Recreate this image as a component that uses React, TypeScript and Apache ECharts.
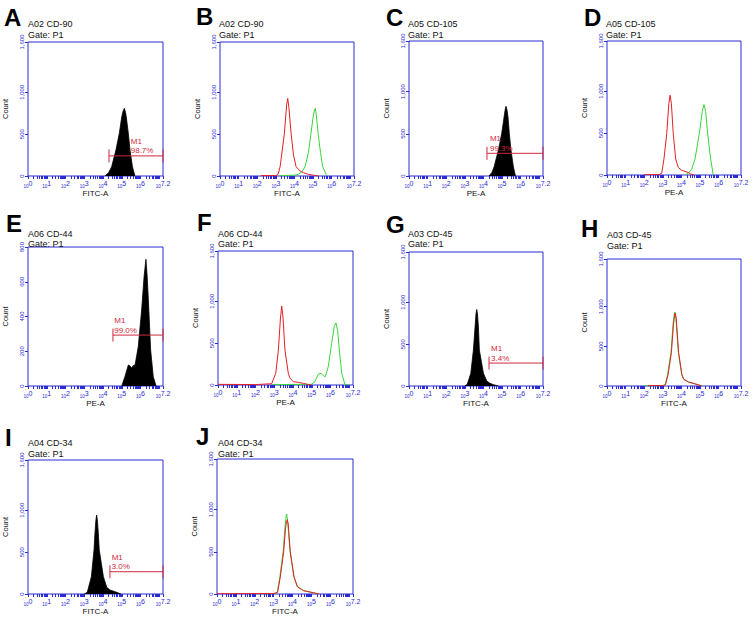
import React, { useEffect, useRef } from 'react';
import * as echarts from 'echarts';

// ---------- data (x = log10 fluorescence, y = event count) ----------
const A_BLACK_X = [4.1, 4.3, 4.46, 4.69, 4.87, 5.0, 5.08, 5.14, 5.2, 5.24, 5.35, 5.44, 5.57, 5.7];
const A_BLACK_Y = [0, 40, 111, 310, 510, 708, 780, 808, 760, 708, 510, 310, 111, 0];

const B_RED_X = [2.2, 3.0, 3.12, 3.23, 3.46, 3.58, 3.64, 3.7, 3.82, 3.95, 4.09, 4.3, 4.48, 4.75, 5.02, 5.3];
const B_RED_Y = [5, 5, 20, 111, 510, 850, 926, 820, 510, 250, 111, 60, 40, 20, 10, 0];
const B_GREEN_X = [3.2, 4.0, 4.21, 4.4, 4.57, 4.75, 4.89, 5.0, 5.08, 5.12, 5.18, 5.27, 5.4, 5.52, 5.74];
const B_GREEN_Y = [5, 10, 20, 50, 111, 280, 510, 700, 790, 808, 720, 510, 280, 111, 0];

const C_BLACK_X = [4.3, 4.45, 4.57, 4.8, 4.98, 5.11, 5.17, 5.21, 5.26, 5.32, 5.39, 5.48, 5.61, 5.72];
const C_BLACK_Y = [0, 40, 107, 304, 502, 700, 790, 826, 790, 700, 502, 304, 107, 0];

const D_RED_X = [2.0, 2.8, 2.94, 3.06, 3.21, 3.32, 3.39, 3.46, 3.56, 3.69, 3.83, 4.01, 4.37, 4.5, 4.7];
const D_RED_Y = [5, 5, 20, 191, 493, 850, 952, 850, 493, 191, 90, 56, 30, 10, 0];
const D_GREEN_X = [4.2, 4.37, 4.55, 4.73, 4.96, 5.12, 5.21, 5.3, 5.41, 5.57, 5.71];
const D_GREEN_Y = [5, 20, 70, 191, 493, 760, 840, 760, 493, 191, 0];

const E_BLACK_X = [5.0, 5.17, 5.35, 5.45, 5.53, 5.62, 5.71, 5.88, 6.06, 6.19, 6.29, 6.35, 6.42, 6.54, 6.68, 6.83];
const E_BLACK_Y = [0, 54, 121, 115, 104, 118, 121, 226, 437, 629, 729, 640, 495, 207, 54, 0];

const F_RED_X = [0, 2.0, 2.86, 3.08, 3.22, 3.33, 3.4, 3.47, 3.57, 3.75, 3.84, 4.02, 4.3, 4.55, 4.82, 5.0];
const F_RED_Y = [8, 5, 15, 139, 417, 800, 941, 800, 417, 139, 80, 40, 30, 20, 5, 0];
const F_GREEN_X = [2.9, 4.9, 5.0, 5.17, 5.35, 5.5, 5.62, 5.72, 5.88, 6.06, 6.2, 6.29, 6.38, 6.47, 6.6, 6.77, 7.0];
const F_GREEN_Y = [5, 8, 10, 40, 131, 140, 110, 99, 218, 497, 700, 742, 650, 417, 139, 5, 0];

const G_BLACK_X = [3.0, 3.13, 3.32, 3.46, 3.55, 3.6, 3.64, 3.68, 3.73, 3.78, 4.0, 4.18, 4.35, 4.55, 4.8];
const G_BLACK_Y = [0, 20, 151, 429, 707, 860, 914, 860, 707, 429, 151, 60, 32, 15, 0];

const H_GREEN_X = [2.0, 3.0, 3.12, 3.26, 3.44, 3.55, 3.62, 3.65, 3.7, 3.83, 4.01, 4.1, 4.37, 4.91, 5.09];
const H_GREEN_Y = [3, 5, 15, 150, 427, 780, 920, 932, 860, 427, 150, 90, 51, 15, 0];
const H_RED_X = [2.2, 3.0, 3.14, 3.28, 3.46, 3.57, 3.64, 3.67, 3.72, 3.85, 4.02, 4.12, 4.38, 4.9, 5.1];
const H_RED_Y = [5, 5, 15, 140, 420, 770, 905, 920, 850, 420, 150, 85, 50, 15, 0];

const I_BLACK_X = [3.0, 3.16, 3.38, 3.52, 3.57, 3.62, 3.66, 3.7, 3.75, 3.8, 4.02, 4.2, 4.37, 4.73, 4.95];
const I_BLACK_Y = [0, 20, 207, 525, 724, 880, 943, 880, 724, 525, 207, 80, 48, 20, 0];

const J_GREEN_X = [2.0, 3.0, 3.19, 3.33, 3.51, 3.6, 3.66, 3.69, 3.74, 3.86, 4.07, 4.25, 4.57, 5.1, 5.36];
const J_GREEN_Y = [3, 5, 20, 206, 521, 800, 920, 948, 860, 521, 206, 90, 40, 15, 0];
const J_RED_X = [0, 0.1, 2.0, 3.0, 3.21, 3.35, 3.53, 3.62, 3.68, 3.72, 3.77, 3.88, 4.08, 4.26, 4.58, 5.1, 5.4];
const J_RED_Y = [10, 3, 5, 5, 20, 200, 500, 760, 860, 880, 830, 500, 200, 85, 40, 15, 0];

// M1 gates: [start, end, level, label anchor], percentage
const A_GATE = [4.32, 7.2, 240, 5.48];
const A_GATE_PCT = '98.7%';
const C_GATE = [4.19, 7.2, 269, 4.35];
const C_GATE_PCT = '99.3%';
const E_GATE = [4.53, 7.2, 293, 4.6];
const E_GATE_PCT = '99.0%';
const G_GATE = [4.3, 7.2, 274, 4.41];
const G_GATE_PCT = '3.4%';
const I_GATE = [4.37, 7.2, 266, 4.46];
const I_GATE_PCT = '3.0%';

const X_LABEL_VALUES = [0, 1, 2, 3, 4, 5, 6, 7.2];
const Y_TICKS_1600 = [0, 500, 1000, 1600];
const Y_TICKS_800 = [0, 200, 400, 600, 800];

// ---------- styling ----------
const BLUE = '#2b2bd2';
const RED = '#e41e26';
const GREEN = '#3ad43a';
const MARK = '#d0283c';
const FONT = '"Liberation Sans", Arial, Helvetica, sans-serif';

const LOG_TICKS: number[] = [];
for (let d = 0; d <= 7; d++) {
  for (let k = 1; k <= 9; k++) {
    const v = d + Math.log10(k);
    if (v <= 7.2 + 1e-9) LOG_TICKS.push(Number(v.toFixed(4)));
  }
}
LOG_TICKS.push(7.2);

const zip = (xs: number[], ys: number[]) => xs.map((x, i) => [x, ys[i]]);

type Curve = { data: number[][]; color: string; fill?: boolean };
type Panel = {
  letter: string;
  title: string;
  channel: string;
  ymax: number;
  yticks: number[];
  grid: { left: number; top: number; width: number; height: number };
  letterXY: [number, number];
  titleXY: [number, number];
  gateY: number;
  curves: Curve[];
  gate?: { v: number[]; pct: string };
};

const PANELS: Panel[] = [
  {
    letter: 'A', title: 'A02 CD-90', channel: 'FITC-A', ymax: 1600, yticks: Y_TICKS_1600,
    grid: { left: 28, top: 42, width: 135, height: 134 },
    letterXY: [4, 17.5], titleXY: [28, 23.5], gateY: 35,
    curves: [{ data: zip(A_BLACK_X, A_BLACK_Y), color: '#000', fill: true }],
    gate: { v: A_GATE, pct: A_GATE_PCT },
  },
  {
    letter: 'B', title: 'A02 CD-90', channel: 'FITC-A', ymax: 1600, yticks: Y_TICKS_1600,
    grid: { left: 220, top: 42, width: 134, height: 134 },
    letterXY: [196, 16.5], titleXY: [219, 24], gateY: 35,
    curves: [
      { data: zip(B_GREEN_X, B_GREEN_Y), color: GREEN },
      { data: zip(B_RED_X, B_RED_Y), color: RED },
    ],
  },
  {
    letter: 'C', title: 'A05 CD-105', channel: 'PE-A', ymax: 1600, yticks: Y_TICKS_1600,
    grid: { left: 409, top: 41, width: 134, height: 135 },
    letterXY: [386, 17], titleXY: [408, 23.5], gateY: 34.5,
    curves: [{ data: zip(C_BLACK_X, C_BLACK_Y), color: '#000', fill: true }],
    gate: { v: C_GATE, pct: C_GATE_PCT },
  },
  {
    letter: 'D', title: 'A05 CD-105', channel: 'PE-A', ymax: 1600, yticks: Y_TICKS_1600,
    grid: { left: 607, top: 41, width: 134, height: 134 },
    letterXY: [584, 17], titleXY: [606, 23.5], gateY: 34.5,
    curves: [
      { data: zip(D_GREEN_X, D_GREEN_Y), color: GREEN },
      { data: zip(D_RED_X, D_RED_Y), color: RED },
    ],
  },
  {
    letter: 'E', title: 'A06 CD-44', channel: 'PE-A', ymax: 800, yticks: Y_TICKS_800,
    grid: { left: 28, top: 247, width: 135, height: 139 },
    letterXY: [6, 223], titleXY: [28, 233.5], gateY: 244,
    curves: [{ data: zip(E_BLACK_X, E_BLACK_Y), color: '#000', fill: true }],
    gate: { v: E_GATE, pct: E_GATE_PCT },
  },
  {
    letter: 'F', title: 'A06 CD-44', channel: 'PE-A', ymax: 1600, yticks: Y_TICKS_1600,
    grid: { left: 218, top: 251, width: 135, height: 134 },
    letterXY: [197, 222], titleXY: [218, 233.5], gateY: 244,
    curves: [
      { data: zip(F_GREEN_X, F_GREEN_Y), color: GREEN },
      { data: zip(F_RED_X, F_RED_Y), color: RED },
    ],
  },
  {
    letter: 'G', title: 'A03 CD-45', channel: 'FITC-A', ymax: 1600, yticks: Y_TICKS_1600,
    grid: { left: 409, top: 252, width: 134, height: 134 },
    letterXY: [386, 224], titleXY: [408, 233.5], gateY: 244,
    curves: [{ data: zip(G_BLACK_X, G_BLACK_Y), color: '#000', fill: true }],
    gate: { v: G_GATE, pct: G_GATE_PCT },
  },
  {
    letter: 'H', title: 'A03 CD-45', channel: 'FITC-A', ymax: 1600, yticks: Y_TICKS_1600,
    grid: { left: 607, top: 259, width: 134, height: 127 },
    letterXY: [581, 228.5], titleXY: [607, 234.5], gateY: 245.5,
    curves: [
      { data: zip(H_GREEN_X, H_GREEN_Y), color: GREEN },
      { data: zip(H_RED_X, H_RED_Y), color: RED },
    ],
  },
  {
    letter: 'I', title: 'A04 CD-34', channel: 'FITC-A', ymax: 1600, yticks: Y_TICKS_1600,
    grid: { left: 28, top: 460, width: 135, height: 134 },
    letterXY: [5, 437.5], titleXY: [28, 442.5], gateY: 453.5,
    curves: [{ data: zip(I_BLACK_X, I_BLACK_Y), color: '#000', fill: true }],
    gate: { v: I_GATE, pct: I_GATE_PCT },
  },
  {
    letter: 'J', title: 'A04 CD-34', channel: 'FITC-A', ymax: 1600, yticks: Y_TICKS_1600,
    grid: { left: 217, top: 459, width: 136, height: 135 },
    letterXY: [196, 436], titleXY: [218, 442.5], gateY: 453.5,
    curves: [
      { data: zip(J_GREEN_X, J_GREEN_Y), color: GREEN },
      { data: zip(J_RED_X, J_RED_Y), color: RED },
    ],
  },
];

const fmtCount = (v: number) =>
  v >= 1000 ? `${Math.floor(v / 1000)},${String(v % 1000).padStart(3, '0')}` : String(v);

function buildOption(): any {
  const grid: any[] = [];
  const xAxis: any[] = [];
  const yAxis: any[] = [];
  const series: any[] = [];
  const graphic: any[] = [];

  PANELS.forEach((p, i) => {
    grid.push({ ...p.grid, show: true, borderColor: BLUE, borderWidth: 1, backgroundColor: '#fff' });
    xAxis.push({
      type: 'value', gridIndex: i, min: 0, max: 7.2,
      name: p.channel, nameLocation: 'middle', nameGap: 13,
      nameTextStyle: { fontSize: 8, color: '#111', fontFamily: FONT },
      axisLine: { show: false },
      splitLine: { show: false },
      axisTick: { show: true, length: 3, lineStyle: { color: BLUE, width: 1 }, customValues: LOG_TICKS },
      axisLabel: {
        customValues: X_LABEL_VALUES,
        margin: 4,
        formatter: (v: number) => `{a|10}{b|${v}}`,
        rich: {
          a: { fontSize: 4.5, color: BLUE, fontFamily: FONT, verticalAlign: 'bottom', padding: [4, 0, 0, 0] },
          b: { fontSize: 7, color: BLUE, fontFamily: FONT, verticalAlign: 'top' },
        },
      },
    });
    yAxis.push({
      type: 'value', gridIndex: i, min: 0, max: p.ymax,
      name: 'Count', nameLocation: 'middle', nameGap: 19,
      nameTextStyle: { fontSize: 7.5, color: '#111', fontFamily: FONT },
      axisLine: { show: false },
      splitLine: { show: false },
      axisTick: { show: true, length: 3, lineStyle: { color: BLUE, width: 1 }, customValues: p.yticks },
      axisLabel: {
        customValues: p.yticks, rotate: 90, margin: 3, fontSize: 6, color: BLUE, fontFamily: FONT,
        formatter: (v: number) => fmtCount(v),
      },
    });
    p.curves.forEach((c) => {
      series.push({
        type: 'line', xAxisIndex: i, yAxisIndex: i, data: c.data,
        showSymbol: false, symbol: 'none', silent: true,
        lineStyle: { color: c.color, width: c.fill ? 0.8 : 1 },
        areaStyle: c.fill ? { color: '#000', opacity: 1 } : undefined,
      });
    });
    if (p.gate) {
      const g = p.gate;
      series.push({
        type: 'custom', xAxisIndex: i, yAxisIndex: i, clip: false, silent: true, z: 10,
        data: [g.v],
        encode: { x: [0, 1, 3], y: 2 },
        renderItem: (_params: any, api: any) => {
          const p1 = api.coord([api.value(0), api.value(2)]);
          const p2 = api.coord([api.value(1), api.value(2)]);
          const pl = api.coord([api.value(3), api.value(2)]);
          const st = { stroke: MARK, lineWidth: 1 };
          return {
            type: 'group',
            children: [
              { type: 'line', shape: { x1: p1[0], y1: p1[1], x2: p2[0], y2: p2[1] }, style: st },
              { type: 'line', shape: { x1: p1[0], y1: p1[1] - 6.5, x2: p1[0], y2: p1[1] + 6.5 }, style: st },
              { type: 'line', shape: { x1: p2[0], y1: p2[1] - 6.5, x2: p2[0], y2: p2[1] + 6.5 }, style: st },
              { type: 'text', x: pl[0], y: pl[1] - 14.5, style: { text: 'M1', fill: MARK, font: `8px ${FONT}`, verticalAlign: 'middle', align: 'left' } },
              { type: 'text', x: pl[0], y: pl[1] - 5, style: { text: g.pct, fill: MARK, font: `8px ${FONT}`, verticalAlign: 'middle', align: 'left' } },
            ],
          };
        },
      });
    }
    graphic.push(
      { type: 'text', x: p.letterXY[0], y: p.letterXY[1], style: { text: p.letter, fill: '#000', font: `bold 24px ${FONT}`, verticalAlign: 'middle', align: 'left' } },
      { type: 'text', x: p.titleXY[0], y: p.titleXY[1], style: { text: p.title, fill: '#111', font: `9px ${FONT}`, verticalAlign: 'middle', align: 'left' } },
      { type: 'text', x: p.titleXY[0], y: p.gateY, style: { text: 'Gate: P1', fill: '#111', font: `9px ${FONT}`, verticalAlign: 'middle', align: 'left' } },
    );
  });

  return { animation: false, backgroundColor: '#fff', grid, xAxis, yAxis, series, graphic };
}

export default function App() {
  const ref = useRef<HTMLDivElement>(null);
  useEffect(() => {
    if (!ref.current) return;
    const chart = echarts.init(ref.current, undefined, { renderer: 'svg' });
    chart.setOption(buildOption());
    return () => chart.dispose();
  }, []);
  return (
    <div
      ref={ref}
      style={{ position: 'absolute', left: 0, top: 0, width: 753, height: 620, background: '#fff' }}
    />
  );
}
